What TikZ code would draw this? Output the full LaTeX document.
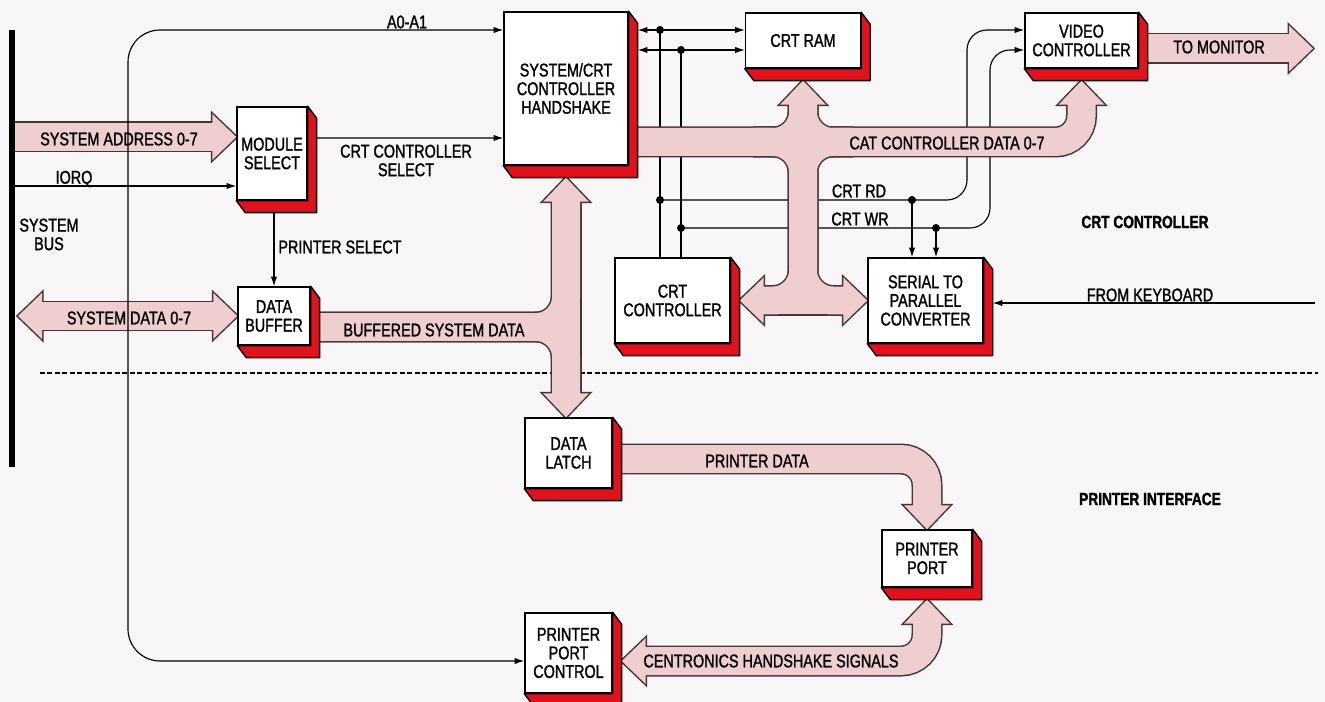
\documentclass[tikz,border=0pt]{standalone}
\usepackage{fontspec}
\setmainfont{Liberation Sans}[FakeStretch=0.78]
\newfontfamily\labelfont{Liberation Sans}[FakeStretch=0.78, FakeBold=1.3]
\newfontfamily\titlefont{Liberation Sans Bold}[FakeStretch=0.78, FakeBold=1.5]
\usetikzlibrary{arrows.meta,positioning,calc}
\pgfdeclarelayer{background}
\pgfsetlayers{background,main}
\definecolor{chipred}{RGB}{224,18,30}
\definecolor{bandfill}{RGB}{238,206,206}
\definecolor{bandline}{RGB}{72,52,52}
\definecolor{paper}{RGB}{248,246,246}

%% head of a wide bus arrow: tip, direction
\newcommand{\fathead}[2]{\path[bandhead, shift={#1}, rotate=#2] (0,0) -- (-24,-23) -- (-24,23) -- cycle;}

%% all wide buses, drawn twice (outline, then fill)
\newcommand{\bandpaths}{%
  % system address
  \path[band] (addrL) -- ($(mod.west |- addrL)+(-20,0)$);
  \fathead{(mod.west |- addrL)}{0}
  % system data
  \path[band] ($(dataL)+(20,0)$) -- ($(buf.west)+(-20,0)$);
  \fathead{(dataL)}{180}
  \fathead{(buf.west)}{0}
  % buffered system data
  \path[band, rounded corners=0.6cm] (bufout) -- (bufout -| hs.south) -- ($(hs.south)+(0,32)$);
  \path[band, rounded corners=0.6cm] (bufout) -- (bufout -| hs.south) -- ($(hs.south |- latch.north)+(0,-20)$);
  \path[band] ($(hs.south)+(0,32)$) -- ($(hs.south |- latch.north)+(0,-20)$);
  \fathead{($(hs.south)+(0,12)$)}{90}
  \fathead{(hs.south |- latch.north)}{-90}
  % crt controller data
  \path[band, rounded corners=0.52cm] (catout) -- (catout -| vid.south) -- ($(vid.south)+(0,32)$);
  \path[band, rounded corners=0.6cm] ($(catout -| ram.south)+(-50,0)$) -- (catout -| ram.south) -- ($(ram.south)+(0,32)$);
  \path[band, rounded corners=0.6cm] ($(catout -| ram.south)+(50,0)$) -- (catout -| ram.south) -- ($(ram.south)+(0,32)$);
  \path[band, rounded corners=0.6cm] ($(catout -| ram.south)+(-50,0)$) -- (catout -| ram.south) -- (crtc.east -| ram.south) -- ($(crtcR)+(20,0)$);
  \path[band, rounded corners=0.6cm] ($(catout -| ram.south)+(50,0)$) -- (catout -| ram.south) -- (ser.west -| ram.south) -- ($(ser.west)+(-20,0)$);
  \path[band] ($(crtcR)+(20,0)$) -- ($(ser.west)+(-20,0)$);
  \fathead{($(vid.south)+(0,12)$)}{90}
  \fathead{($(ram.south)+(0,12)$)}{90}
  \fathead{(crtcR)}{180}
  \fathead{(ser.west)}{0}
  % to monitor
  \path[band] (vidout) -- ($(monitor)+(-20,0)$);
  \fathead{(monitor)}{0}
  % printer data
  \path[band, rounded corners=0.52cm] (latchout) -- (latchout -| port.north) -- ($(port.north)+(0,-20)$);
  \fathead{(port.north)}{-90}
  % centronics handshake
  \path[band, rounded corners=0.52cm] ($(port.south)+(0,32)$) -- (ppcR -| port.south) -- ($(ppcR)+(20,0)$);
  \fathead{($(port.south)+(0,12)$)}{90}
  \fathead{(ppcR)}{180}
}

\begin{document}
\begin{tikzpicture}[x=0.02cm, y=-0.02cm,
  chip/.style={draw=black, fill=white, line width=0.8pt, align=center, inner sep=1pt, font=\labelfont\fontsize{10.5}{10.6}\selectfont},
  lbl/.style={align=center, inner sep=0pt, font=\labelfont\fontsize{10.5}{10.6}\selectfont},
  title/.style={inner sep=0pt, font=\titlefont\fontsize{10}{11}\selectfont},
  sig/.style={draw=black, line width=0.65pt, >={Latex[length=5.5pt,width=3.6pt]}}]
  \useasboundingbox (0,0) rectangle (1325,702);

  %% System bus
  \coordinate (busT) at (12,30);
  \coordinate (busB) at (12,467);
  \draw[line width=0.12cm] (busT) -- (busB);
  \coordinate (addrL) at (15,137);
  \coordinate (iorqL) at (15,186);
  \coordinate (dataL) at (18,316);

  %% Blocks
  \node[chip, minimum width=2.48cm, minimum height=3.06cm] (hs)    at (566,88.5)   {SYSTEM/CRT\\CONTROLLER\\HANDSHAKE};
  \node[chip, minimum width=2.30cm, minimum height=1.10cm] (ram)   at (803,40.5)   {CRT RAM};
  \node[chip, minimum width=2.26cm, minimum height=1.10cm] (vid)   at (1081.5,40.5) {VIDEO\\CONTROLLER};
  \node[chip, minimum width=1.40cm, minimum height=1.86cm] (mod)   at (272,153.5)  {MODULE\\SELECT};
  \node[chip, minimum width=1.44cm, minimum height=1.16cm] (buf)   at (274,316)    {DATA\\BUFFER};
  \node[chip, minimum width=2.30cm, minimum height=1.70cm] (crtc)  at (672.5,300.5) {CRT\\CONTROLLER};
  \node[chip, minimum width=2.30cm, minimum height=1.70cm] (ser)   at (925.5,300.5) {SERIAL TO\\PARALLEL\\CONVERTER};
  \node[chip, minimum width=1.74cm, minimum height=1.40cm] (latch) at (568.5,453)  {DATA\\LATCH};
  \node[chip, minimum width=1.80cm, minimum height=1.14cm] (port)  at (927,558.5)  {PRINTER\\PORT};
  \node[chip, minimum width=1.74cm, minimum height=1.60cm] (ppc)   at (568.5,653)  {PRINTER\\PORT\\CONTROL};

  %% Red sides
  \foreach \b in {hs,ram,vid,mod,buf,crtc,ser,latch,port,ppc}
    \filldraw[fill=chipred, draw=black, line width=0.8pt, line join=round] (\b.north east) -- ++(9,12) -- ($(\b.south east)+(9,12)$) -- ($(\b.south west)+(9,12)$) -- (\b.south west) -- (\b.south east) -- cycle;

  %% Bus ends
  \coordinate (hsR)      at ($(hs.east)+(9,0)$);
  \coordinate (catout)   at ($(hs.east)+(9,53.5)$);
  \coordinate (bufout)   at ($(buf.east)+(9,11)$);
  \coordinate (crtcR)    at ($(crtc.east)+(9,0)$);
  \coordinate (serR)     at ($(ser.east)+(9,0)$);
  \coordinate (vidout)   at ($(vid.east)+(9,8)$);
  \coordinate (monitor)  at (1313,48.5);
  \coordinate (latchout) at ($(latch.east)+(9,6)$);
  \coordinate (ppcR)     at ($(ppc.east)+(9,8)$);
  \coordinate (kbd)      at (1315,303);
  \coordinate (sepL)     at (40,373);
  \coordinate (sepR)     at (1318,373);

  %% Junction dots
  \coordinate (d1) at (660,30);
  \coordinate (d2) at (681,50);
  \coordinate (d3) at (660,200);
  \coordinate (d4) at (681,228);
  \coordinate (d5) at (912,200);
  \coordinate (d6) at (936,228);

  \begin{pgfonlayer}{background}
    \fill[paper] (0,0) rectangle (1325,702);
    \draw[line width=0.05cm, dash pattern=on 0.1cm off 0.05cm] (sepL) -- (sepR);

    %% Control lines
    \draw[sig, ->] (iorqL) -- (mod.west |- iorqL);
    \draw[sig, ->] ($(mod.east)+(9,-15.5)$) -- ($(hs.west)+(0,49.5)$);
    \draw[sig, ->] ($(mod.south)+(2,12)$) -- (buf.north);
    \draw[sig, <->] (hsR |- d1) -- (ram.west |- d1);
    \draw[sig, <->] (hsR |- d2) -- (ram.west |- d2);
    \draw[sig] (d1) -- (d1 |- crtc.north);
    \draw[sig] (d2) -- (d2 |- crtc.north);
    \draw[sig, ->, rounded corners=0.4cm] (d3) -- (967,200) -- (967,30) -- (vid.west |- d1);
    \draw[sig, ->, rounded corners=0.4cm] (d4) -- (990,228) -- (990,50) -- (vid.west |- d2);
    \draw[sig, ->] (d5) -- (d5 |- ser.north);
    \draw[sig, ->] (d6) -- (d6 |- ser.north);
    \draw[sig, ->] (kbd) -- (kbd -| serR);
    \foreach \d in {d1,d2,d3,d4,d5,d6}
      \fill (\d) circle[radius=0.08cm];

    %% Wide buses
    \begin{scope}[band/.style={draw=bandline, line width=0.62cm}, bandhead/.style={fill=bandline, draw=bandline, line width=0.06cm}]
      \bandpaths
    \end{scope}
    \begin{scope}[band/.style={draw=bandfill, line width=0.56cm}, bandhead/.style={fill=bandfill}]
      \bandpaths
    \end{scope}
  \end{pgfonlayer}

  %% A0-A1 to handshake and printer port control
  \draw[sig, <->, rounded corners=0.64cm] (hs.west |- d1) -- (128,30) -- (128,661) -- (ppc.west |- ppcR);

  %% Labels
  \node[lbl] (lA0)   at (407,22)   {A0-A1};
  \node[lbl] (lAddr) at (119,139)  {SYSTEM ADDRESS 0-7};
  \node[lbl] (lIorq) at (74,179)   {IORQ};
  \node[lbl] (lBus)  at (49,234.5) {SYSTEM\\BUS};
  \node[lbl] (lSel)  at (406,160.5) {CRT CONTROLLER\\SELECT};
  \node[lbl] (lPsel) at (340,247)  {PRINTER SELECT};
  \node[lbl] (lData) at (129,318)  {SYSTEM DATA 0-7};
  \node[lbl] (lBuff) at (434,330)  {BUFFERED SYSTEM DATA};
  \node[lbl] (lCat)  at (947,143)  {CAT CONTROLLER DATA 0-7};
  \node[lbl] (lRd)   at (859,191)  {CRT RD};
  \node[lbl] (lWr)   at (860,219)  {CRT WR};
  \node[lbl] (lMon)  at (1219,47)  {TO MONITOR};
  \node[lbl] (lKbd)  at (1150,295) {FROM KEYBOARD};
  \node[lbl] (lPdat) at (757,461)  {PRINTER DATA};
  \node[lbl] (lCen)  at (771,661)  {CENTRONICS HANDSHAKE SIGNALS};
  \node[title] (tCrt) at (1145,222) {CRT CONTROLLER};
  \node[title] (tPrn) at (1150,499) {PRINTER INTERFACE};
\end{tikzpicture}
\end{document}
